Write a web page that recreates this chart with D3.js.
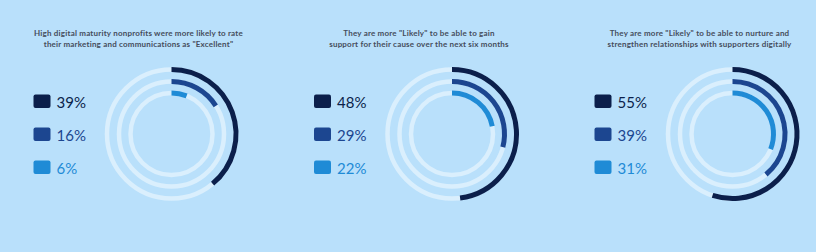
<!DOCTYPE html>
<html><head><meta charset="utf-8">
<script src="https://cdn.jsdelivr.net/npm/d3@7"></script>
<style>
html,body{margin:0;padding:0;background:#b9e0fb;}
svg{display:block;}
</style></head>
<body>
<svg id="chart" width="816" height="252"></svg>
<script>
// ---- data ----
const titles = [
  ["High digital maturity nonprofits were more likely to rate", "their marketing and communications as \"Excellent\""],
  ["They are more \"Likely\" to be able to gain", "support for their cause over the next six months"],
  ["They are more \"Likely\" to be able to nurture and", "strengthen relationships with supporters digitally"]
];
const outerValues  = [39, 48, 55];
const middleValues = [16, 29, 39];
const innerValues  = [6, 22, 31];
const seriesColors = ["#0b1f4b", "#1c4690", "#1f8bd6"];

// ---- layout ----
const svg = d3.select("#chart");
const W = 816, H = 252;
svg.append("rect").attr("width", W).attr("height", H).attr("fill", "#b9e0fb");

const panelX = d3.scalePoint().domain([0, 1, 2]).range([171.5, 732.5]);
const cy = 134;
const radii = [64.5, 52.5, 41];
const strokeW = 5;
const angle = d3.scaleLinear().domain([0, 100]).range([0, 2 * Math.PI]);
const legendY = d3.scalePoint().domain([0, 1, 2]).range([94.5, 160.5]);

const series = [outerValues, middleValues, innerValues];

titles.forEach((t, i) => {
  const cx = panelX(i);
  const g = svg.append("g");
  // title
  g.append("text")
    .attr("x", cx - 33).attr("y", 36)
    .attr("text-anchor", "middle")
    .attr("font-family", "Lato, 'Open Sans', sans-serif")
    .attr("font-weight", 700).attr("font-size", 8)
    .attr("letter-spacing", 0.2)
    .attr("fill", "#454d5c")
    .selectAll("tspan").data(t).join("tspan")
    .attr("x", cx - 33).attr("dy", (d, k) => k === 0 ? 0 : 10.7)
    .text(d => d);

  const rings = g.append("g").attr("transform", `translate(${cx},${cy})`);
  series.forEach((vals, s) => {
    const r = radii[s];
    rings.append("circle").attr("r", r)
      .attr("fill", "none").attr("stroke", "#daeffd").attr("stroke-width", strokeW - 0.5);
    const arc = d3.arc()
      .innerRadius(r).outerRadius(r)
      .startAngle(0).endAngle(angle(vals[i]));
    rings.append("path").attr("d", arc())
      .attr("fill", "none").attr("stroke", seriesColors[s])
      .attr("stroke-width", strokeW).attr("stroke-linecap", "round");

    // legend
    const ly = legendY(s);
    g.append("rect")
      .attr("x", cx - 138).attr("y", ly)
      .attr("width", 17).attr("height", 13.5).attr("rx", 2)
      .attr("fill", seriesColors[s]);
    g.append("text")
      .attr("x", cx - 115).attr("y", ly + 13.6)
      .attr("font-family", "Lato, 'Open Sans', sans-serif")
      .attr("font-size", 15).attr("font-weight", 400)
      .attr("fill", seriesColors[s])
      .text(vals[i] + "%");
  });
});
</script>
</body></html>
